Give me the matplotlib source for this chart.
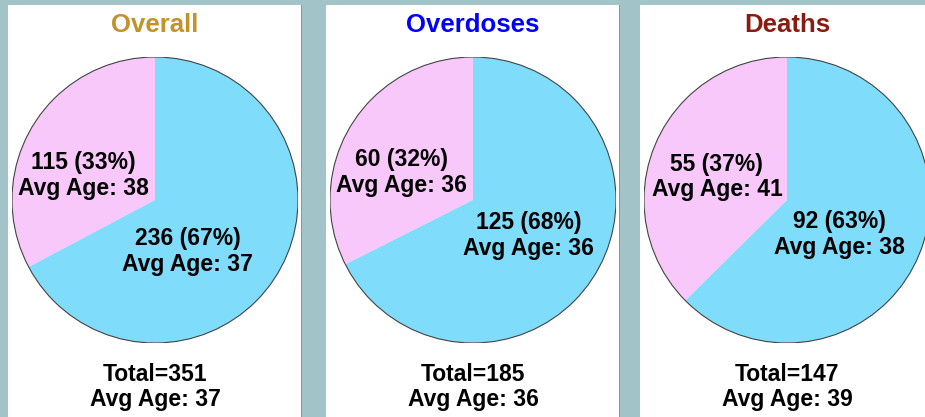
import matplotlib
matplotlib.use('Agg')
import matplotlib.pyplot as plt
from matplotlib.patches import Rectangle, Circle

# 数据
titles = ['Overall', 'Overdoses', 'Deaths']
title_colors = ['#c3922a', '#0000ff', '#8b1a10']
pink_counts = [115, 60, 55]
blue_counts = [236, 125, 92]
pink_ages = [38, 36, 41]
blue_ages = [37, 36, 38]
total_ages = [37, 36, 39]

# 标签位置 (以饼图半径为单位)
pink_pos = [(-0.50, 0.17), (-0.50, 0.19), (-0.49, 0.16)]
blue_pos = [(0.23, -0.36), (0.39, -0.25), (0.37, -0.24)]

W, H = 925, 417
bg = '#a2c4c9'
pink = '#f8c8fa'
blue = '#7fdcfb'
font = 'Liberation Sans'
fs = 16.5

fig = plt.figure(figsize=(W / 100, H / 100), dpi=100, facecolor=bg)

panel_left = [8, 326, 640]
panel_w = 293
r = 143      # 饼图半径 (像素)
cy = 200     # 饼图中心 y (从上往下)

for i in range(3):
    x0 = panel_left[i]
    # 白色面板 + 右侧细阴影线
    fig.patches.append(Rectangle((x0 / W, 0), panel_w / W, 1 - 5 / H,
                                 transform=fig.transFigure, facecolor='white',
                                 edgecolor='none', zorder=-5))
    fig.patches.append(Rectangle(((x0 + panel_w) / W, 0), 1.2 / W, 1 - 5 / H,
                                 transform=fig.transFigure, facecolor='#7f9a9f',
                                 edgecolor='none', zorder=-5))
    cx = x0 + 147
    ax = fig.add_axes([(cx - r) / W, (H - cy - r) / H, 2 * r / W, 2 * r / H])
    ax.pie([pink_counts[i], blue_counts[i]], colors=[pink, blue], startangle=90,
           counterclock=True, radius=1, wedgeprops=dict(linewidth=0))
    ax.add_patch(Circle((0, 0), 1, fill=False, edgecolor='#444444', linewidth=0.8))
    ax.set_xlim(-1, 1)
    ax.set_ylim(-1, 1)
    ax.set_aspect('equal')
    ax.axis('off')

    total = pink_counts[i] + blue_counts[i]
    p_pct = round(100 * pink_counts[i] / total)
    b_pct = 100 - p_pct
    ax.text(pink_pos[i][0], pink_pos[i][1],
            '{} ({}%)\nAvg Age: {}'.format(pink_counts[i], p_pct, pink_ages[i]),
            ha='center', va='center', fontsize=fs, fontweight='bold',
            family=font, linespacing=1.15)
    ax.text(blue_pos[i][0], blue_pos[i][1],
            '{} ({}%)\nAvg Age: {}'.format(blue_counts[i], b_pct, blue_ages[i]),
            ha='center', va='center', fontsize=fs, fontweight='bold',
            family=font, linespacing=1.15)

    # 标题
    fig.text(cx / W, 1 - 25 / H, titles[i], ha='center', va='center',
             fontsize=18.5, fontweight='bold', color=title_colors[i], family=font)
    # 合计
    fig.text(cx / W, 1 - 387 / H, 'Total={}\nAvg Age: {}'.format(total, total_ages[i]),
             ha='center', va='center', fontsize=fs, fontweight='bold',
             family=font, linespacing=1.15)

fig.savefig('out.png', dpi=100, facecolor=bg)
